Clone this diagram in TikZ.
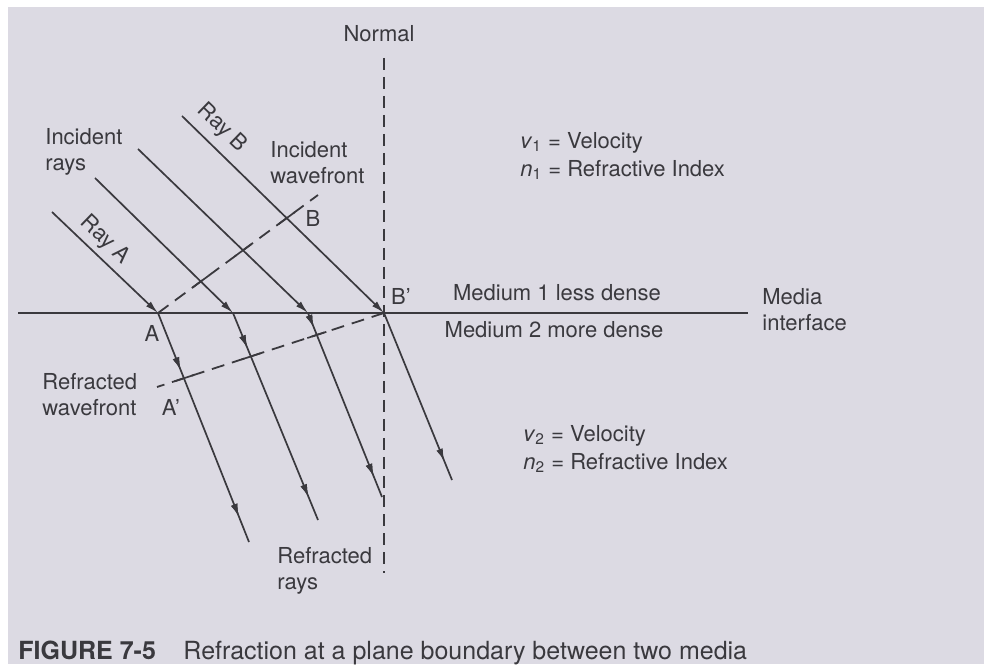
\documentclass[tikz,border=0pt]{standalone}
\usepackage{fontspec}
\setmainfont{TeX Gyre Heros}
\usetikzlibrary{arrows.meta,calc,decorations.markings}
\definecolor{ink}{HTML}{3A393E}
\definecolor{page}{HTML}{DCDAE3}

\tikzset{
  ray/.style={ink,line width=0.85pt},
  tipin/.style={-{Latex[length=6.5pt,width=3.4pt]}},
  arrowat/.style={postaction={decorate},decoration={markings,
      mark=at position #1 with {\arrow{Latex[length=6.5pt,width=3.4pt]}}}},
  front/.style={ink,line width=0.9pt,dash pattern=on 6.5pt off 4pt},
  lbl/.style={text=ink,font=\fontsize{11}{13}\selectfont,inner sep=0pt,align=left},
}

\begin{document}
\begin{tikzpicture}[x=0.5pt,y=-0.5pt]
  \fill[white] (0,0) rectangle (984,664);
  \fill[page] (8,7) rectangle (984,664);
  % interface and normal
  \coordinate (ifL) at (18,313);
  \coordinate (ifR) at (748,313);
  \coordinate (nTop) at (384,58);
  \coordinate (nBot) at (384,573);
  \draw[ink,line width=1.4pt] (ifL) -- (ifR);
  \draw[ink,line width=0.9pt,dash pattern=on 6pt off 3.5pt] (nTop) -- (nBot);
  % incident and refracted rays
  \foreach \n/\sx/\sy/\hx/\ex/\ey/\p in {1/52/212/158/249/542/0.25,2/95/178/233/318/520/0.17,
                                         3/138/149/308/382/497/0.08,4/182/116/384/452/480/0}{
    \coordinate (s\n) at (\sx,\sy);
    \coordinate (h\n) at (\hx,313);
    \coordinate (e\n) at (\ex,\ey);
    \draw[ray,tipin] (s\n) -- (h\n);
    \ifnum\n<4
      \draw[ray,arrowat=\p,arrowat=0.89] (h\n) -- (e\n);
    \else
      \draw[ray,arrowat=0.89] (h\n) -- (e\n);
    \fi
  }
  \coordinate (A) at (h1);
  \coordinate (Bp) at (h4);
  % incident wavefront A--B
  \coordinate (wB) at (318,195);
  \draw[front] (A) -- (wB);
  % refracted wavefront B'--A'
  \coordinate (wA) at (157,387);
  \draw[front] (Bp) -- (wA);
  % ticks where the fronts cross the rays
  \foreach \n in {2,3,4}{
    \coordinate (c\n) at (intersection of A--wB and s\n--h\n);
    \draw[ray] ($(c\n)!-5pt!(wB)$) -- ($(c\n)!5pt!(wB)$);
  }
  \foreach \n in {1,2,3}{
    \coordinate (d\n) at (intersection of Bp--wA and h\n--e\n);
    \draw[ray] ($(d\n)!-5pt!(wA)$) -- ($(d\n)!5pt!(wA)$);
  }
  \coordinate (B) at (c4);
  \coordinate (Ap) at (d1);
  % labels
  \node[lbl] (normal) at (379,34) {Normal};
  \node[lbl,rotate=-44] (rayB) at (222,128) {Ray B};
  \node[lbl,rotate=-44] (rayA) at (105,240) {Ray A};
  \node[lbl,anchor=north west] (incrays) at (45,128) {Incident\\rays};
  \node[lbl,anchor=north west] (incfront) at (270,141) {Incident\\wavefront};
  \node[lbl] (labB) at (313,218) {B};
  \node[lbl] (labBp) at (401,296) {B\textquoteright};
  \node[lbl] (labA) at (152,333) {A};
  \node[lbl] (labAp) at (171,407) {A\textquoteright};
  \node[lbl,anchor=north west] (medium1) at (520,132) {\textit{v}\textsubscript{1} = Velocity\\[1pt]\textit{n}\textsubscript{1} = Refractive Index};
  \node[lbl] (less) at (557,293) {Medium 1 less dense};
  \node[lbl] (more) at (554,330) {Medium 2 more dense};
  \node[lbl,anchor=north west] (media) at (762,288) {Media\\interface};
  \node[lbl,anchor=north west] (reffront) at (42,373) {Refracted\\wavefront};
  \node[lbl,anchor=north west] (medium2) at (523,425) {\textit{v}\textsubscript{2} = Velocity\\[1pt]\textit{n}\textsubscript{2} = Refractive Index};
  \node[lbl,anchor=north west] (refrays) at (277,547) {Refracted\\rays};
  \node[lbl,anchor=base west,font=\fontsize{12.5}{15}\selectfont] (caption) at (18,659)
    {\textbf{FIGURE 7-5}\hspace{1.1em}Refraction at a plane boundary between two media};
\end{tikzpicture}
\end{document}
